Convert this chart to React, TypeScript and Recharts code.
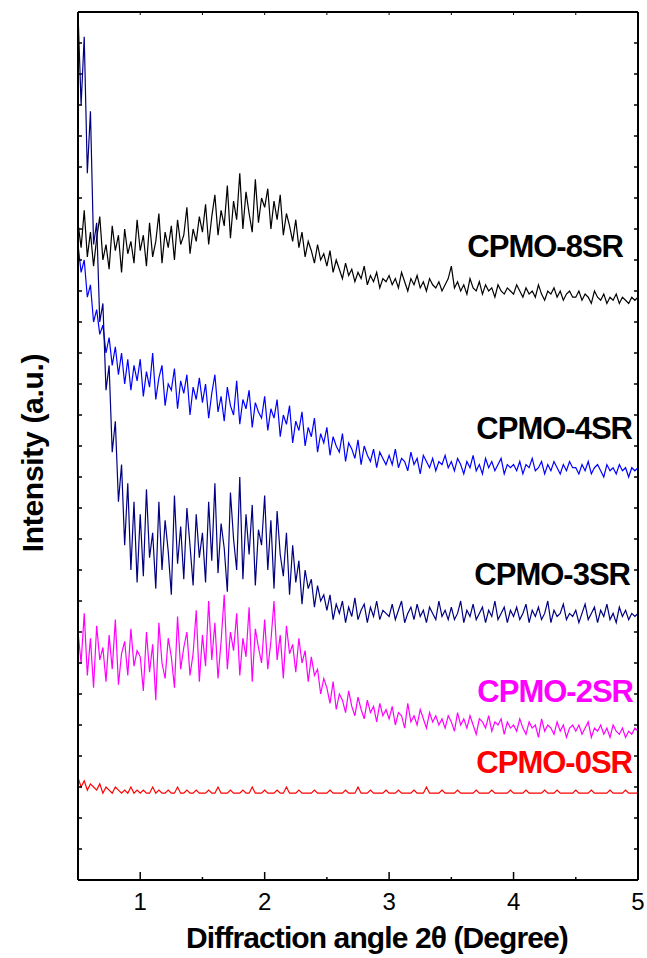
import React from 'react';
import { LineChart, Line, XAxis, YAxis } from 'recharts';

// 2θ grid of the scan, 0.5° to 5° in 0.025° steps
const angles = Array.from({ length: 181 }, (_, i) => +(0.5 + i * 0.025).toFixed(3));

// stacked intensities (arbitrary units, offset per sample)
const cpmo0 = [
  33, 30, 32, 29, 31, 30, 29, 31, 28, 30, 29, 28, 30, 29, 28, 29, 28, 30, 28, 29,
  28, 29, 28, 28, 30, 28, 29, 28, 28, 29, 28, 28, 30, 28, 28, 29, 28, 28, 29, 28,
  28, 28, 29, 28, 28, 30, 28, 28, 28, 29, 28, 28, 28, 29, 28, 28, 30, 28, 28, 28,
  29, 28, 28, 28, 29, 28, 28, 30, 28, 28, 28, 29, 28, 28, 28, 28, 29, 28, 28, 28,
  28, 29, 28, 28, 28, 28, 29, 28, 28, 28, 30, 28, 28, 28, 29, 28, 28, 28, 28, 29,
  28, 28, 28, 29, 28, 28, 28, 28, 29, 28, 28, 28, 30, 28, 28, 28, 28, 29, 28, 28,
  28, 28, 29, 28, 28, 28, 28, 28, 29, 28, 28, 28, 28, 29, 28, 28, 28, 28, 28, 29,
  28, 28, 28, 28, 29, 28, 28, 28, 28, 28, 29, 28, 28, 28, 29, 28, 28, 28, 28, 28,
  29, 28, 28, 28, 28, 29, 28, 28, 28, 28, 28, 29, 28, 28, 28, 28, 29, 28, 28, 28,
  28,
];

const cpmo2 = [
  80, 70, 86, 66, 78, 62, 82, 71, 75, 64, 79, 68, 84, 63, 73, 77, 66, 81, 69, 74,
  72, 61, 80, 67, 76, 58, 83, 70, 65, 78, 72, 62, 85, 68, 75, 80, 66, 73, 87, 64,
  79, 69, 90, 71, 83, 65, 77, 92, 68, 80, 74, 86, 66, 78, 72, 88, 64, 81, 75, 70,
  84, 68, 77, 90, 71, 79, 65, 82, 73, 76, 67, 78, 70, 74, 64, 72, 66, 68, 60, 65,
  62, 57, 64, 55, 60, 58, 54, 61, 56, 53, 59, 55, 52, 58, 54, 56, 51, 57, 53, 55,
  52, 56, 50, 54, 53, 49, 57, 51, 53, 50, 55, 52, 49, 54, 51, 53, 50, 52, 49, 53,
  51, 48, 54, 50, 52, 49, 53, 50, 47, 52, 51, 49, 53, 48, 51, 50, 52, 47, 51, 49,
  50, 48, 52, 49, 47, 51, 49, 50, 46, 52, 48, 50, 49, 47, 51, 48, 50, 46, 49, 50,
  48, 50, 47, 49, 51, 46, 49, 48, 50, 47, 49, 46, 50, 48, 47, 49, 46, 48, 47, 49,
  48,
];

const cpmo3 = [
  280, 250, 272, 228, 248, 205, 212, 180, 186, 158, 166, 138, 148, 122, 134, 108, 128, 100, 122, 96,
  118, 98, 126, 104, 112, 94, 122, 100, 116, 106, 92, 124, 102, 114, 97, 120, 108, 95, 118, 104,
  112, 96, 122, 103, 128, 99, 115, 107, 93, 125, 110, 100, 130, 97, 118, 105, 121, 95, 113, 108,
  124, 100, 116, 94, 119, 105, 98, 112, 92, 108, 96, 103, 89, 100, 94, 97, 88, 95, 90, 92,
  87, 92, 84, 89, 86, 90, 83, 88, 85, 91, 84, 87, 89, 83, 88, 85, 90, 84, 87, 86,
  85, 89, 84, 87, 90, 83, 86, 88, 84, 89, 85, 87, 83, 88, 86, 84, 90, 85, 87, 84,
  88, 84, 86, 90, 83, 87, 85, 89, 84, 86, 88, 83, 87, 85, 90, 84, 86, 88, 83, 87,
  85, 88, 84, 86, 89, 83, 87, 85, 88, 84, 86, 90, 83, 87, 85, 86, 89, 84, 86, 85,
  87, 83, 86, 89, 84, 86, 88, 83, 87, 85, 89, 84, 86, 83, 88, 85, 87, 84, 86, 85,
  86,
];

const cpmo4 = [
  205, 196, 200, 188, 192, 180, 184, 176, 179, 170, 175, 166, 172, 163, 170, 160, 168, 158, 166, 161,
  168, 156, 164, 159, 170, 155, 162, 166, 153, 160, 158, 165, 152, 161, 157, 163, 150, 159, 155, 162,
  154, 160, 149, 157, 163, 151, 156, 148, 159, 153, 150, 161, 147, 155, 152, 158, 146, 154, 151, 149,
  156, 145, 152, 149, 155, 143, 150, 147, 153, 141, 148, 145, 151, 140, 146, 143, 149, 138, 144, 141,
  146, 137, 143, 140, 138, 144, 135, 141, 139, 136, 142, 134, 140, 137, 135, 139, 133, 138, 136, 134,
  137, 134, 139, 133, 136, 135, 132, 138, 134, 136, 131, 137, 135, 133, 136, 132, 135, 134, 137, 133,
  135, 132, 136, 134, 131, 135, 133, 137, 132, 134, 131, 136, 133, 135, 132, 134, 136, 131, 134, 133,
  134, 132, 135, 131, 134, 133, 136, 132, 133, 135, 131, 134, 132, 135, 133, 131, 134, 132, 135, 133,
  133, 131, 134, 132, 135, 131, 133, 134, 132, 130, 134, 132, 133, 131, 134, 132, 133, 130, 133, 132,
  133,
];

const cpmo8 = [
  212, 204, 216, 201, 209, 198, 207, 214, 200, 205, 197, 211, 203, 208, 196, 210, 202, 206, 199, 213,
  203, 208, 198, 212, 201, 206, 215, 199, 209, 204, 211, 200, 213, 205, 208, 217, 202, 210, 206, 214,
  209, 218, 205, 214, 221, 208, 216, 211, 224, 207, 219, 213, 228, 210, 222, 215, 209, 226, 212, 220,
  217, 223, 210, 219, 213, 221, 208, 215, 211, 206, 213, 204, 209, 201, 206, 203, 199, 205, 200, 202,
  198, 203, 196, 200, 197, 194, 199, 195, 197, 193, 196, 194, 198, 192, 195, 193, 196, 191, 194, 193,
  195, 192, 194, 191, 196, 193, 190, 194, 192, 195, 191, 193, 190, 194, 192, 191, 193, 190, 192, 194,
  198, 191, 193, 190, 192, 189, 194, 191, 190, 193, 189, 192, 190, 191, 188, 192, 190, 189, 191, 190,
  189, 192, 190, 188, 191, 189, 190, 188, 192, 189, 187, 190, 189, 191, 188, 190, 187, 189, 190, 188,
  188, 190, 187, 189, 188, 186, 190, 188, 187, 189, 186, 188, 187, 189, 186, 188, 187, 186, 188, 187,
  188,
];

const xTicks = [1, 1.5, 2, 2.5, 3, 3.5, 4, 4.5, 5];
const yTicks = Array.from({ length: 29 }, (_, i) => i * 10);

const series = [
  { key: 'cpmo0', name: 'CPMO-0SR', color: '#ff0000', labelColor: '#ff0000', values: cpmo0 },
  { key: 'cpmo2', name: 'CPMO-2SR', color: '#ff00ff', labelColor: '#ff00ff', values: cpmo2 },
  { key: 'cpmo8', name: 'CPMO-8SR', color: '#000000', labelColor: '#000000', values: cpmo8 },
  { key: 'cpmo4', name: 'CPMO-4SR', color: '#0000ff', labelColor: '#000000', values: cpmo4 },
  { key: 'cpmo3', name: 'CPMO-3SR', color: '#000080', labelColor: '#000000', values: cpmo3 },
];

const data = angles.map((x, i) => {
  const row: Record<string, number> = { x };
  series.forEach((s) => {
    row[s.key] = s.values[i];
  });
  return row;
});

const FONT = '"Liberation Sans", Arial, sans-serif';

// label placement in page pixels (right end, baseline)
const labelSpots: Record<string, [number, number]> = {
  'CPMO-8SR': [623, 257],
  'CPMO-4SR': [632, 439],
  'CPMO-3SR': [630, 585],
  'CPMO-2SR': [633, 702],
  'CPMO-0SR': [632, 773],
};

function BottomTick({ x, y, payload }: any) {
  const major = Number.isInteger(payload.value);
  return (
    <g>
      <line x1={x} x2={x} y1={y} y2={y - (major ? 8 : 3)} stroke="#000" strokeWidth={1.5} />
      {major && (
        <text x={x} y={y + 30} textAnchor="middle" fontSize={24} fontFamily={FONT} fill="#000">
          {payload.value}
        </text>
      )}
    </g>
  );
}

function TopTick({ x, y }: any) {
  return <line x1={x} x2={x} y1={y} y2={y + 3} stroke="#000" strokeWidth={1} />;
}

function LeftTick({ x, y }: any) {
  return <line x1={x} x2={x + 4} y1={y} y2={y} stroke="#000" strokeWidth={1.5} />;
}

function RightTick({ x, y }: any) {
  return <line x1={x} x2={x - 4} y1={y} y2={y} stroke="#000" strokeWidth={1.5} />;
}

export default function App() {
  return (
    <div style={{ position: 'absolute', left: 0, top: 0, width: 647, height: 958, background: '#fff' }}>
      <LineChart
        width={647}
        height={958}
        data={data}
        margin={{ top: 11, right: 8, bottom: 77, left: 77 }}
      >
        <XAxis
          dataKey="x"
          type="number"
          domain={[0.5, 5]}
          ticks={xTicks}
          height={1}
          tickSize={0}
          tickMargin={0}
          tickLine={false}
          tick={<BottomTick />}
          axisLine={{ stroke: '#000', strokeWidth: 2 }}
          allowDataOverflow
          interval={0}
        />
        <XAxis
          xAxisId="top"
          orientation="top"
          dataKey="x"
          type="number"
          domain={[0.5, 5]}
          ticks={xTicks}
          height={1}
          tickSize={0}
          tickMargin={0}
          tickLine={false}
          tick={<TopTick />}
          axisLine={{ stroke: '#000', strokeWidth: 2 }}
          allowDataOverflow
          interval={0}
        />
        <YAxis
          type="number"
          domain={[0, 280]}
          ticks={yTicks}
          width={1}
          tickSize={0}
          tickMargin={0}
          tickLine={false}
          tick={<LeftTick />}
          axisLine={{ stroke: '#000', strokeWidth: 2 }}
          allowDataOverflow
          interval={0}
        />
        <YAxis
          yAxisId="right"
          orientation="right"
          type="number"
          domain={[0, 280]}
          ticks={yTicks}
          width={1}
          tickSize={0}
          tickMargin={0}
          tickLine={false}
          tick={<RightTick />}
          axisLine={{ stroke: '#000', strokeWidth: 2 }}
          allowDataOverflow
          interval={0}
        />
        {series.map((s) => (
          <Line
            key={s.key}
            dataKey={s.key}
            type="linear"
            stroke={s.color}
            strokeWidth={1.2}
            dot={false}
            activeDot={false}
            isAnimationActive={false}
          />
        ))}
      </LineChart>
      <svg
        width={647}
        height={958}
        style={{ position: 'absolute', left: 0, top: 0, pointerEvents: 'none' }}
      >
        {series.map((s) => {
          const [lx, ly] = labelSpots[s.name];
          return (
            <text
              key={s.key}
              x={lx}
              y={ly}
              textAnchor="end"
              fontSize={31}
              fontWeight="bold"
              letterSpacing={-1}
              fontFamily={FONT}
              fill={s.labelColor}
            >
              {s.name}
            </text>
          );
        })}
        <text
          transform="translate(43, 453) rotate(-90)"
          textAnchor="middle"
          fontSize={30}
          fontWeight="bold"
          letterSpacing={-0.3}
          fontFamily={FONT}
          fill="#000"
        >
          Intensity (a.u.)
        </text>
        <text
          x={377}
          y={948}
          textAnchor="middle"
          fontSize={30}
          fontWeight="bold"
          letterSpacing={-0.9}
          fontFamily={FONT}
          fill="#000"
        >
          Diffraction angle 2θ (Degree)
        </text>
      </svg>
    </div>
  );
}
